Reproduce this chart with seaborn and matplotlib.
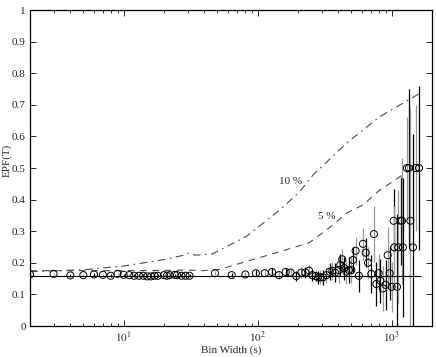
import numpy as np
import pandas as pd
import seaborn as sns
import matplotlib
matplotlib.use("Agg")
import matplotlib.pyplot as plt
from matplotlib.ticker import FuncFormatter, LogLocator, NullFormatter

# ---------------- data ----------------
bin_width = [2, 3, 4, 5, 6, 7, 8, 9, 10, 11, 12, 13, 14, 15, 16, 17, 18, 20, 21, 22, 24, 25, 27, 29, 31,
             48, 64, 81, 97, 113, 128, 144, 162, 176, 194, 212, 227, 242, 256, 271, 282, 294, 307, 326,
             345, 361, 378, 402, 414, 428, 443, 459, 480, 500, 514, 538, 569, 611, 640, 666, 705, 737,
             769, 800, 824, 861, 902, 933, 966, 1000, 1035, 1047, 1096, 1122, 1167, 1194, 1213, 1300,
             1345, 1380, 1442, 1510, 1600]
epf = [0.163, 0.165, 0.160, 0.161, 0.163, 0.162, 0.159, 0.165, 0.162, 0.161, 0.159, 0.159, 0.159, 0.157,
       0.157, 0.159, 0.159, 0.161, 0.159, 0.161, 0.162, 0.161, 0.159, 0.159, 0.159,
       0.167, 0.161, 0.163, 0.167, 0.167, 0.171, 0.161, 0.171, 0.169, 0.158, 0.169, 0.169, 0.175, 0.161,
       0.158, 0.154, 0.154, 0.154, 0.161, 0.172, 0.175, 0.169, 0.177, 0.193, 0.211, 0.183, 0.172, 0.177,
       0.177, 0.209, 0.238, 0.159, 0.260, 0.232, 0.200, 0.165, 0.291, 0.133, 0.167, 0.143, 0.119, 0.130,
       0.224, 0.167, 0.124, 0.333, 0.249, 0.124, 0.249, 0.333, 0.333, 0.249, 0.500, 0.500, 0.333, 0.249,
       0.500, 0.500]
epf_err = [0.004] * 25 + \
          [0.006, 0.007, 0.008, 0.009, 0.010, 0.011, 0.012, 0.013, 0.014, 0.015, 0.016, 0.017, 0.018,
           0.019, 0.020, 0.021, 0.022, 0.023, 0.024, 0.026, 0.028, 0.030, 0.040, 0.035, 0.034, 0.036,
           0.038, 0.040, 0.042, 0.040, 0.045, 0.050, 0.050, 0.045, 0.050, 0.060, 0.090, 0.070, 0.060,
           0.070, 0.070, 0.080, 0.090, 0.085, 0.080, 0.100, 0.130, 0.230, 0.180, 0.140, 0.200, 0.220,
           0.160, 0.250, 0.360, 0.360, 0.200, 0.260, 0.360, 0.360]
bar_shade = (['k', '0.6'] * 60)[:len(bin_width)]

curve_x = [2, 5, 10, 20, 28, 31, 34, 46, 82, 146, 206, 259, 459, 813, 1618]
curve10 = [0.172, 0.178, 0.190, 0.210, 0.224, 0.232, 0.224, 0.228, 0.283, 0.367, 0.425, 0.478, 0.578, 0.662, 0.736]
curve5_x = [2, 5, 10, 20, 30, 39, 52, 82, 146, 244, 365, 459, 611, 813, 1020, 1361]
curve5 = [0.175, 0.175, 0.175, 0.176, 0.177, 0.175, 0.179, 0.204, 0.235, 0.264, 0.320, 0.357, 0.383, 0.430, 0.457, 0.494]

mean_level = 0.158
mean_range = [2, 1650]

label10 = ("10 %", 176, 0.456)
label5 = ("5 %", 327, 0.345)

# ---------------- plot ----------------
sns.set_style("ticks")
plt.rcParams['font.family'] = ['Liberation Serif', 'DejaVu Serif']
plt.rcParams['mathtext.fontset'] = 'stix'

fig = plt.figure(figsize=(4.36, 3.57), dpi=100)
ax = fig.add_axes([30 / 436, 31 / 357, 402 / 436, 316 / 357])

for xv, yv, ev, c in zip(bin_width, epf, epf_err, bar_shade):
    ax.errorbar(xv, yv, yerr=ev, fmt='none', ecolor=c, elinewidth=0.9, capsize=0, zorder=2)

ax.hlines(mean_level, mean_range[0], mean_range[1], color='k', lw=0.8, zorder=3)

df10 = pd.DataFrame({"x": curve_x, "y": curve10})
df5 = pd.DataFrame({"x": curve5_x, "y": curve5})
sns.lineplot(data=df10, x="x", y="y", ax=ax, color='0.3', lw=0.8, linestyle=(0, (7, 4, 1.5, 4)), estimator=None, sort=True)
sns.lineplot(data=df5, x="x", y="y", ax=ax, color='0.3', lw=0.8, linestyle=(0, (6, 5)), estimator=None, sort=True)

dfp = pd.DataFrame({"x": bin_width, "y": epf})
sns.scatterplot(data=dfp, x="x", y="y", ax=ax, marker='o', s=26, facecolors='none', edgecolor='k', linewidth=0.7, zorder=4)

ax.text(label10[1], label10[2], label10[0], fontsize=8, ha='center', va='center')
ax.text(label5[1], label5[2], label5[0], fontsize=8, ha='center', va='center')

ax.set_xscale('log')
ax.set_xlim(2, 2000)
ax.set_ylim(0, 1)
ax.set_yticks(np.arange(0, 1.01, 0.1))
ax.yaxis.set_major_formatter(FuncFormatter(lambda v, p: f"{v:g}"))
ax.xaxis.set_major_locator(LogLocator(base=10))
ax.xaxis.set_minor_locator(LogLocator(base=10, subs=np.arange(2, 10)))
ax.xaxis.set_minor_formatter(NullFormatter())
ax.xaxis.set_major_formatter(FuncFormatter(lambda v, p: r"$10^{%d}$" % round(np.log10(v))))

ax.tick_params(which='both', direction='in', top=True, right=True, labelsize=8, width=0.7, pad=3)
ax.tick_params(which='major', length=4)
ax.tick_params(which='minor', length=2.5)
for s in ax.spines.values():
    s.set_linewidth(0.9)
    s.set_color('k')

ax.set_xlabel("Bin Width (s)", fontsize=8)
ax.set_ylabel("EPF(T)", fontsize=8)
ax.xaxis.set_label_coords(0.5, -0.062)
ax.yaxis.set_label_coords(-0.046, 0.525)

fig.savefig("out.png", dpi=100)
